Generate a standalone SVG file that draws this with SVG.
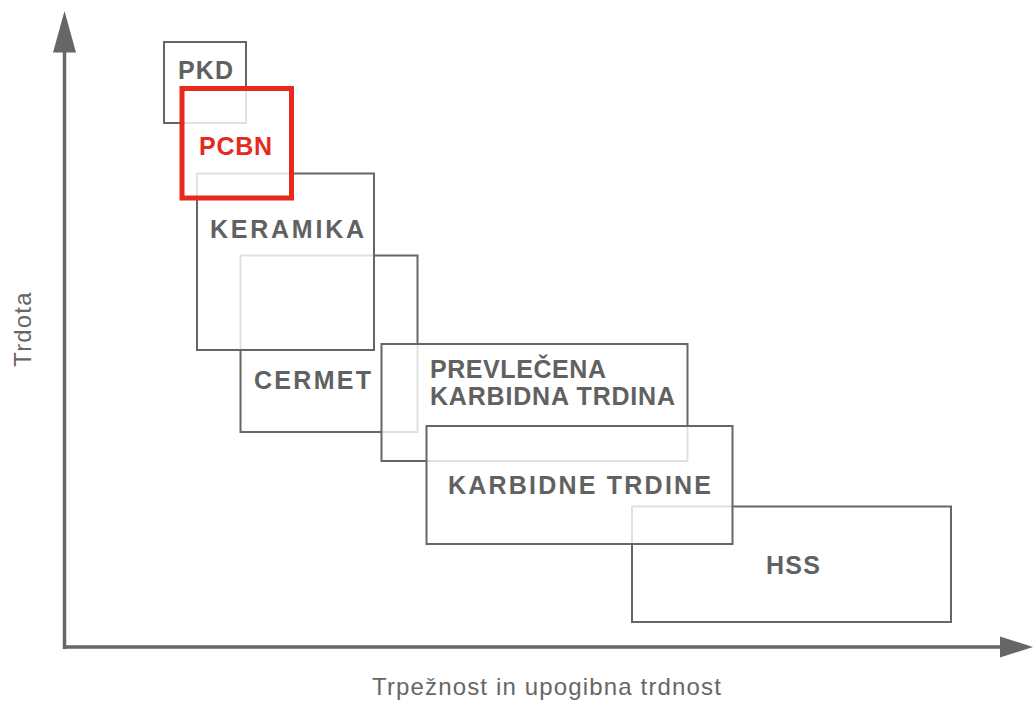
<svg xmlns="http://www.w3.org/2000/svg" width="1033" height="702" viewBox="0 0 1033 702">
<style>
.box{fill:#fff;fill-opacity:0.8;stroke:#666;stroke-width:2}
.red{fill:#fff;fill-opacity:0.8;stroke:#e8291c;stroke-width:5}
.lbl{font-family:"Liberation Sans",Arial,sans-serif;font-weight:bold;font-size:25px;fill:#616161}
.lblr{font-family:"Liberation Sans",Arial,sans-serif;font-weight:bold;font-size:25px;fill:#e52b1e}
.ax{font-family:"Liberation Sans",Arial,sans-serif;font-size:24px;letter-spacing:1.15px;fill:#666}
</style>
<rect width="1033" height="702" fill="#fff"/>
<g id="axes">
<line x1="64.5" y1="649" x2="64.5" y2="50" stroke="#666" stroke-width="3.5"/>
<line x1="63" y1="647" x2="1002" y2="647" stroke="#666" stroke-width="3.5"/>
<polygon points="64.5,11 53,52.5 76,52.5" fill="#666"/>
<polygon points="1033,647 1000,636.5 1000,657.5" fill="#666"/>
<text class="ax" x="372" y="695">Trpežnost in upogibna trdnost</text>
<text class="ax" transform="translate(31,329) rotate(-90)" text-anchor="middle">Trdota</text>
</g>
<g id="hss"><rect class="box" x="632" y="506.5" width="319" height="115.5"/><text class="lbl" x="766" y="574" textLength="54" lengthAdjust="spacing">HSS</text></g>
<g id="cermet"><rect class="box" x="240.5" y="255.5" width="177" height="176.5"/><text class="lbl" x="254" y="389" textLength="117" lengthAdjust="spacing">CERMET</text></g>
<g id="prevlecena"><rect class="box" x="381.5" y="344" width="306" height="117"/><text class="lbl" x="430" y="378" textLength="176" lengthAdjust="spacing">PREVLEČENA</text><text class="lbl" x="430" y="405" textLength="245" lengthAdjust="spacing">KARBIDNA TRDINA</text></g>
<g id="karbidne"><rect class="box" x="426.5" y="426" width="306" height="118"/><text class="lbl" x="448" y="494" textLength="263" lengthAdjust="spacing">KARBIDNE TRDINE</text></g>
<g id="keramika"><rect class="box" x="197" y="173.5" width="177" height="176.5"/><text class="lbl" x="210" y="238" textLength="154" lengthAdjust="spacing">KERAMIKA</text></g>
<g id="pkd"><rect class="box" x="164" y="42" width="82" height="81"/><text class="lbl" x="178" y="79" textLength="55" lengthAdjust="spacing">PKD</text></g>
<g id="pcbn"><rect class="red" x="182" y="88.5" width="109.5" height="109.5"/><text class="lblr" x="199" y="155" textLength="73" lengthAdjust="spacing">PCBN</text></g>
<g id="connectors"></g>
</svg>
